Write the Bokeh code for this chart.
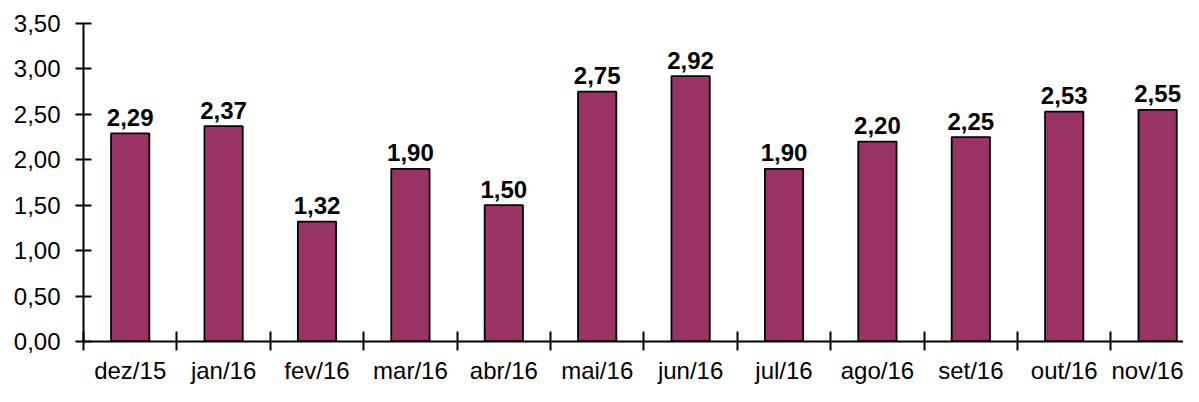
from bokeh.plotting import figure
from bokeh.models import Range1d, FixedTicker, CustomJSTickFormatter, ColumnDataSource
from bokeh.core.properties import value
from bokeh.embed import file_html
from bokeh.resources import INLINE

months = ["dez/15", "jan/16", "fev/16", "mar/16", "abr/16", "mai/16",
          "jun/16", "jul/16", "ago/16", "set/16", "out/16", "nov/16"]
values = [2.29, 2.37, 1.32, 1.90, 1.50, 2.75, 2.92, 1.90, 2.20, 2.25, 2.53, 2.55]
y_ticks = [0.0, 0.5, 1.0, 1.5, 2.0, 2.5, 3.0, 3.5]

FONT = "Liberation Sans"

xs = [i + 0.5 for i in range(len(months))]
labels = [f"{v:.2f}".replace(".", ",") for v in values]
src = ColumnDataSource(dict(x=xs, top=values, label=labels))

p = figure(width=1183, height=386, output_backend="svg", toolbar_location=None,
           x_range=Range1d(0, 11.777), y_range=Range1d(0, 3.5),
           min_border_left=83, min_border_right=0, min_border_top=23, min_border_bottom=40)
p.outline_line_color = None
p.xgrid.visible = False
p.ygrid.visible = False
p.background_fill_color = "white"
p.border_fill_color = "white"

p.vbar(x="x", top="top", bottom=0, width=0.41, source=src,
       fill_color="#993366", line_color="black", line_width=1.8)

p.text(x="x", y="top", text="label", source=src,
       text_font=value(FONT), text_font_style="bold", text_font_size="24px",
       text_align="center", text_baseline="alphabetic", y_offset=-16,
       text_color="black")

# y axis
ya = p.yaxis[0]
ya.ticker = FixedTicker(ticks=y_ticks, minor_ticks=[])
ya.formatter = CustomJSTickFormatter(code="return tick.toFixed(2).replace('.', ',');")
ya.major_tick_in = 8
ya.major_tick_out = 8
ya.minor_tick_in = 0
ya.minor_tick_out = 0
ya.axis_line_width = 2
ya.axis_line_color = "black"
ya.major_tick_line_width = 2
ya.major_tick_line_color = "black"
ya.major_label_standoff = 15
ya.major_label_text_font = FONT
ya.major_label_text_font_size = "24px"
ya.major_label_text_color = "black"

# x axis
xa = p.xaxis[0]
xa.ticker = FixedTicker(ticks=xs, minor_ticks=list(range(len(months) + 1)))
xa.formatter = CustomJSTickFormatter(args=dict(labels=months),
                                     code="return labels[Math.floor(tick)];")
xa.major_tick_in = 0
xa.major_tick_out = 0
xa.minor_tick_in = 10
xa.minor_tick_out = 9
xa.minor_tick_line_color = "black"
xa.minor_tick_line_width = 2
xa.axis_line_width = 2
xa.axis_line_color = "black"
xa.major_label_standoff = 6
xa.major_label_text_font = FONT
xa.major_label_text_font_size = "24px"
xa.major_label_text_color = "black"

open("out.html", "w").write(file_html(p, INLINE))
